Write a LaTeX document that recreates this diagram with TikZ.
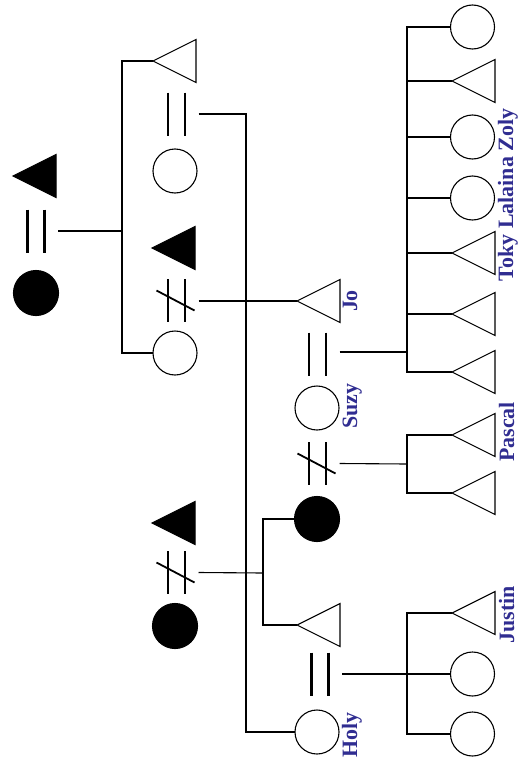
\documentclass[tikz,border=0pt]{standalone}
\usepackage{fontspec}
\setmainfont{Liberation Serif}
\usetikzlibrary{shapes.geometric,calc}
\definecolor{lblc}{RGB}{48,45,145}
\begin{document}
\begin{tikzpicture}[x=1bp,y=-1bp,
  line width=1.1bp,
  tri/.style={isosceles triangle, isosceles triangle stretches, shape border rotate=180,
    minimum width=43bp, minimum height=43bp, inner sep=0pt, outer sep=0pt, draw},
  ftri/.style={tri, fill=black},
  fem/.style={circle, minimum size=44bp, inner sep=0pt, outer sep=0pt, draw},
  ffem/.style={fem, fill=black, minimum size=45bp},
  mar/.style={minimum width=44bp, minimum height=43bp, inner sep=0pt, outer sep=0pt},
  bar/.style={line width=2.3bp},
  lbl/.style={rotate=90, anchor=base, text=lblc, inner sep=0pt,
    font=\fontsize{22}{22}\selectfont\bfseries},
]
\useasboundingbox (0,0) rectangle (525,763);

% generation 1
\node[ftri, anchor=apex] (ft1) at (13,176) {};
\node[ffem] (fc1) at (36,293) {};
\node[mar] (m1) at (36,231) {};

% generation 2
\node[tri, anchor=apex] (t1) at (153,61) {};
\node[fem] (c1) at (175,171) {};
\node[mar] (m2) at (176.5,114) {};
\node[ftri, anchor=apex] (ft2) at (152,248) {};
\node[fem] (c2) at (175,353) {};
\node[mar] (m3) at (176.5,300.5) {};
\node[ftri, anchor=apex] (ft3) at (152,523) {};
\node[ffem] (fc3) at (175,626) {};
\node[mar] (m4) at (176.5,572.5) {};

% generation 3
\node[tri, anchor=apex] (jo) at (297,301) {};
\node[fem] (suzy) at (317,408) {};
\node[mar] (m6) at (317.5,354) {};
\node[ffem] (fc4) at (317,519) {};
\node[mar] (m7) at (317.5,463.5) {};
\node[tri, anchor=apex] (th) at (297,625) {};
\node[fem] (holy) at (317,732) {};
\node[mar] (m8) at (320,674) {};

% generation 4
\node[fem] (k1) at (472.5,27) {};
\node[tri, anchor=apex] (k2) at (452,81) {};
\node[fem] (k3) at (472.5,137) {};
\node[fem] (k4) at (472.5,198) {};
\node[tri, anchor=apex] (k5) at (452,253) {};
\node[tri, anchor=apex] (k6) at (452,314) {};
\node[tri, anchor=apex] (k7) at (452,372) {};
\node[tri, anchor=apex] (p1) at (452,435) {};
\node[tri, anchor=apex] (p2) at (452,493) {};
\node[tri, anchor=apex] (j1) at (452,613) {};
\node[fem] (j2) at (472.5,674) {};
\node[fem] (j3) at (472.5,734) {};

% labels
\node[lbl] (ljo) at (357,301) {Jo};
\node[lbl] (lsuzy) at (357,406) {Suzy};
\node[lbl] (lholy) at (357,735) {Holy};
\node[lbl] (ltoky) at (513,195) {Toky Lalaina Zoly};
\node[lbl] (lpascal) at (514,432) {Pascal};
\node[lbl] (ljustin) at (514,615) {Justin};

% marriage signs
\foreach \m in {m1,m2,m3,m4,m6,m7,m8}{
  \draw[bar] ([xshift=-8.5bp]\m.north) -- ([xshift=-8.5bp]\m.south);
  \draw[bar] ([xshift=8.5bp]\m.north) -- ([xshift=8.5bp]\m.south);
}
\foreach \m in {m3,m4,m7}{
  \draw[line width=1.8bp] ($(\m.center)+(-20,-10)$) -- ($(\m.center)+(18,10)$);
}

% connectors
\coordinate (b1) at (122,231);
\draw (m1.east) -- (b1);
\draw (t1.apex) -| (b1) |- (c2.west);

\coordinate (v2) at (246,114);
\draw (m2.east) -- (v2) |- (holy.west);

\draw (m3.east |- jo.apex) -- (jo.apex);

\coordinate (b4) at (263,573);
\draw (m4.east) -- (b4);
\draw (fc4.west) -| (b4) |- (th.apex);

\coordinate (b6) at (407,352);
\draw (m6.east |- b6) -- (b6);
\draw (k1.west) -| (b6) |- (k7.apex);
\foreach \k in {k2,k5,k6}{\draw (\k.apex) -- (\k.apex -| b6);}
\foreach \k in {k3,k4}{\draw (\k.west) -- (\k.west -| b6);}

\coordinate (b7) at (407,464);
\draw (m7.east) -- (b7);
\draw (p1.apex) -| (b7) |- (p2.apex);

\coordinate (b8) at (407,674);
\draw (m8.east) -- (b8);
\draw (j1.apex) -| (b8) |- (j3.west);
\draw (b8) -- (j2.west);
\end{tikzpicture}
\end{document}
